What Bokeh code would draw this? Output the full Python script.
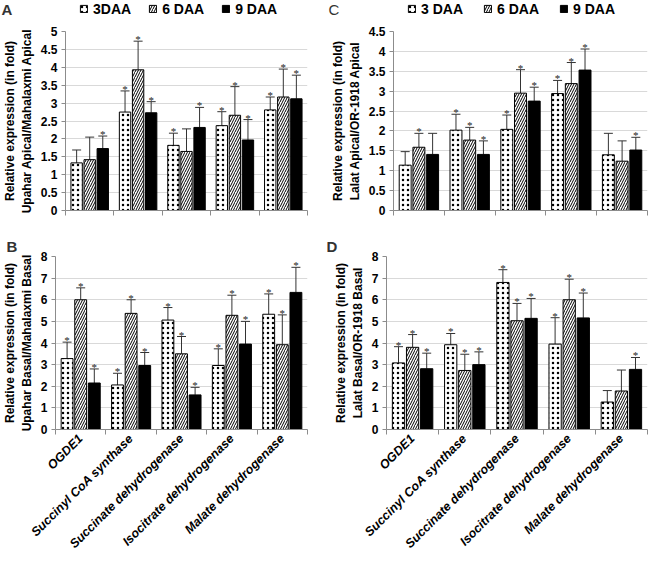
import math
from bokeh.plotting import figure
from bokeh.models import (ColumnDataSource, Range1d, FixedTicker, Whisker, TeeHead,
                          Legend, LegendItem, LabelSet, Label, Title)
from bokeh.layouts import row, column
from bokeh.embed import file_html
from bokeh.resources import INLINE

genes = ["OGDE1", "Succinyl CoA synthase", "Succinate dehydrogenase",
         "Isocitrate dehydrogenase", "Malate dehydrogenase"]

# ---- Panel A : Upahar Apical / Mahalaxmi Apical ----
a_labels = ["3DAA", "6 DAA", "9 DAA"]
a_3 = [1.33, 2.75, 1.82, 2.37, 2.81]
a_3_sd = [0.36, 0.59, 0.34, 0.39, 0.36]
a_3_sig = [0, 1, 1, 1, 1]
a_6 = [1.42, 3.93, 1.65, 2.66, 3.17]
a_6_sd = [0.63, 0.80, 0.63, 0.80, 0.78]
a_6_sig = [0, 1, 0, 1, 1]
a_9 = [1.73, 2.73, 2.32, 1.97, 3.12]
a_9_sd = [0.35, 0.31, 0.56, 0.57, 0.66]
a_9_sig = [1, 1, 1, 1, 1]
a_yticks = [0, 0.5, 1, 1.5, 2, 2.5, 3, 3.5, 4, 4.5, 5]

# ---- Panel B : Upahar Basal / Mahalaxmi Basal ----
b_3 = [3.28, 2.06, 5.06, 2.96, 5.33]
b_3_sd = [0.76, 0.54, 0.58, 0.77, 0.94]
b_3_sig = [1, 1, 1, 1, 1]
b_6 = [6.00, 5.37, 3.50, 5.28, 3.92]
b_6_sd = [0.55, 0.63, 0.80, 0.93, 1.38]
b_6_sig = [1, 1, 1, 1, 1]
b_9 = [2.15, 2.96, 1.60, 3.95, 6.34]
b_9_sd = [0.65, 0.60, 0.35, 1.05, 1.16]
b_9_sig = [1, 1, 1, 1, 1]
b_yticks = [0, 1, 2, 3, 4, 5, 6, 7, 8]

# ---- Panel C : Lalat Apical / OR-1918 Apical ----
c_labels = ["3 DAA", "6 DAA", "9 DAA"]
c_3 = [1.14, 2.02, 2.04, 2.94, 1.40]
c_3_sd = [0.34, 0.40, 0.36, 0.33, 0.54]
c_3_sig = [0, 1, 1, 1, 0]
c_6 = [1.59, 1.77, 2.95, 3.19, 1.24]
c_6_sd = [0.35, 0.32, 0.59, 0.53, 0.51]
c_6_sig = [1, 1, 1, 1, 0]
c_9 = [1.41, 1.41, 2.75, 3.53, 1.52]
c_9_sd = [0.53, 0.34, 0.35, 0.53, 0.32]
c_9_sig = [0, 1, 1, 1, 1]
c_yticks = [0, 0.5, 1, 1.5, 2, 2.5, 3, 3.5, 4, 4.5]

# ---- Panel D : Lalat Basal / OR-1918 Basal ----
d_3 = [3.08, 3.92, 6.80, 3.95, 1.27]
d_3_sd = [0.75, 0.52, 0.59, 1.22, 0.53]
d_3_sig = [1, 1, 1, 1, 0]
d_6 = [3.80, 2.73, 5.03, 6.00, 1.78]
d_6_sd = [0.59, 0.75, 0.80, 0.95, 0.97]
d_6_sig = [1, 1, 1, 1, 0]
d_9 = [2.81, 3.00, 5.14, 5.16, 2.78]
d_9_sd = [0.72, 0.59, 0.92, 1.15, 0.55]
d_9_sig = [1, 1, 1, 1, 1]
d_yticks = [0, 1, 2, 3, 4, 5, 6, 7, 8]

FONT = "Liberation Sans"
AXIS_GRAY = "#8c8c8c"

STYLES = [
    dict(fill_color="white", hatch_pattern=".", hatch_scale=5, hatch_color="black", hatch_weight=1.2),
    dict(fill_color="white", hatch_pattern="/", hatch_scale=5, hatch_color="black", hatch_weight=1.0),
    dict(fill_color="black"),
]
OFFSETS = [-0.27, 0.0, 0.27]
BAR_W = 0.235


def make_panel(series, ylabel, yticks, width, height, borders, show_x_labels, letter=None):
    bl, br, bt, bb = borders
    p = figure(width=width, height=height, output_backend="svg", toolbar_location=None,
               x_range=Range1d(0, len(genes)), y_range=Range1d(0, yticks[-1]),
               min_border_left=bl, min_border_right=br, min_border_top=bt, min_border_bottom=bb)
    p.outline_line_color = None
    sources = []
    for k, (vals, sds, sig) in enumerate(series):
        xs = [i + 0.5 + OFFSETS[k] for i in range(len(genes))]
        tops = [v + s for v, s in zip(vals, sds)]
        src = ColumnDataSource(dict(x=xs, top=vals, upper=tops))
        sources.append(src)
        p.vbar(x="x", top="top", width=BAR_W, source=src, line_color="black", line_width=1,
               **STYLES[k])
        p.add_layout(Whisker(base="x", lower="top", upper="upper", source=src,
                             dimension="height", line_color="#333333", line_width=1,
                             lower_head=None,
                             upper_head=TeeHead(size=9, line_color="#333333", line_width=1)))
        sx = [x for x, s in zip(xs, sig) if s]
        sy = [t for t, s in zip(tops, sig) if s]
        ssrc = ColumnDataSource(dict(x=sx, y=sy, t=["*"] * len(sx)))
        p.add_layout(LabelSet(x="x", y="y", text="t", source=ssrc, text_align="center",
                              text_baseline="alphabetic", y_offset=-2, text_font=FONT,
                              text_font_size="11px", text_color="#222222"))

    p.yaxis.ticker = FixedTicker(ticks=yticks)
    p.yaxis.major_label_overrides = {t: f"{t:g}" for t in yticks}
    p.yaxis.axis_label = ylabel
    p.yaxis.axis_label_text_font = FONT
    p.yaxis.axis_label_text_font_style = "bold"
    p.yaxis.axis_label_text_font_size = "12px"
    p.yaxis.axis_label_text_color = "black"
    p.yaxis.axis_label_standoff = 4
    p.yaxis.major_label_text_font = FONT
    p.yaxis.major_label_text_font_style = "bold"
    p.yaxis.major_label_text_font_size = "12px"
    p.yaxis.major_label_text_color = "black"
    p.yaxis.major_label_standoff = 4
    p.yaxis.axis_line_color = AXIS_GRAY
    p.yaxis.major_tick_line_color = AXIS_GRAY
    p.yaxis.major_tick_out = 4
    p.yaxis.major_tick_in = 0
    p.yaxis.minor_tick_line_color = None
    p.ygrid.grid_line_color = "#d9d9d9"
    p.xgrid.grid_line_color = None

    centers = [i + 0.5 for i in range(len(genes))]
    bounds = [float(i) for i in range(len(genes) + 1)]
    p.xaxis.axis_line_color = AXIS_GRAY
    p.xaxis.major_tick_line_color = None
    p.xaxis.minor_tick_line_color = AXIS_GRAY
    p.xaxis.minor_tick_out = 5
    p.xaxis.minor_tick_in = 0
    if show_x_labels:
        p.xaxis.ticker = FixedTicker(ticks=centers, minor_ticks=bounds)
        p.xaxis.major_label_overrides = {c: g for c, g in zip(centers, genes)}
        p.xaxis.major_label_orientation = math.pi / 4
        p.xaxis.major_label_text_font = FONT
        p.xaxis.major_label_text_font_style = "bold italic"
        p.xaxis.major_label_text_font_size = "12.5px"
        p.xaxis.major_label_text_color = "black"
        p.xaxis.major_label_standoff = 1
    else:
        p.xaxis.ticker = FixedTicker(ticks=[], minor_ticks=bounds)
        p.xaxis.major_label_standoff = 0

    if letter:
        p.add_layout(Title(text=letter, align="left", offset=-(bl - 1), text_font=FONT,
                           text_font_size="15px", vertical_align="top",
                           text_color="#333333", standoff=0), "above")
    return p, sources


def make_strip(labels, sources, width, height, legend_x, spacing, letter, letter_x, letter_bold):
    """Thin strip holding the panel letter and the series legend (its bars are hidden)."""
    s = figure(width=width, height=height, output_backend="svg", toolbar_location=None,
               x_axis_type=None, y_axis_type=None, min_border=0,
               x_range=Range1d(0, len(genes)), y_range=Range1d(-2, -1))
    s.outline_line_color = None
    rs = []
    for src, st in zip(sources, STYLES):
        r = s.vbar(x="x", top="top", width=BAR_W, source=src, line_color="black",
                   line_width=1, **st)
        r.visible = False
        rs.append(r)
    items = [LegendItem(label=l, renderers=[r]) for l, r in zip(labels, rs)]
    lg = Legend(items=items, orientation="horizontal", location=(legend_x, 0), margin=0,
                padding=0, spacing=spacing, glyph_width=9, glyph_height=9,
                label_height=height, label_standoff=5, label_text_font=FONT,
                label_text_font_style="bold", label_text_font_size="14px",
                label_text_color="black", border_line_color=None,
                background_fill_alpha=0, inactive_fill_alpha=0)
    s.add_layout(lg, "center")
    s.add_layout(Label(x=letter_x, y=height / 2, x_units="screen", y_units="screen",
                       text=letter, text_font=FONT, text_font_size="15px",
                       text_font_style="bold" if letter_bold else "normal",
                       text_color="#333333", text_baseline="middle", text_align="left"))
    return s


STRIP_H = 17
pA, srcA = make_panel([(a_3, a_3_sd, a_3_sig), (a_6, a_6_sd, a_6_sig), (a_9, a_9_sd, a_9_sig)],
                      "Relative expression (in fold)\nUpahar Apical/Mahalaxmi Apical", a_yticks,
                      325, 213, (60, 18, 4, 20), False)
pC, srcC = make_panel([(c_3, c_3_sd, c_3_sig), (c_6, c_6_sd, c_6_sig), (c_9, c_9_sd, c_9_sig)],
                      "Relative expression (in fold)\nLalat Apical/OR-1918 Apical", c_yticks,
                      325, 213, (68, 3, 14, 11), False)
pB, _ = make_panel([(b_3, b_3_sd, b_3_sig), (b_6, b_6_sd, b_6_sig), (b_9, b_9_sd, b_9_sig)],
                   "Relative expression (in fold)\nUpahar Basal/Mahalaxmi Basal", b_yticks,
                   325, 328, (50, 18, 17, 125), True, letter="B")
pD, _ = make_panel([(d_3, d_3_sd, d_3_sig), (d_6, d_6_sd, d_6_sig), (d_9, d_9_sd, d_9_sig)],
                   "Relative expression (in fold)\nLalat Basal/OR-1918 Basal", d_yticks,
                   325, 328, (61, 3, 26, 125), True, letter="D")

sA = make_strip(a_labels, srcA, 325, STRIP_H, 79, 17, "A", 1, True)
sC = make_strip(c_labels, srcC, 325, STRIP_H, 82, 20, "C", 3, False)

layout = column(row(sA, sC), row(pA, pC), row(pB, pD))
open("out.html", "w").write(file_html(layout, INLINE))
